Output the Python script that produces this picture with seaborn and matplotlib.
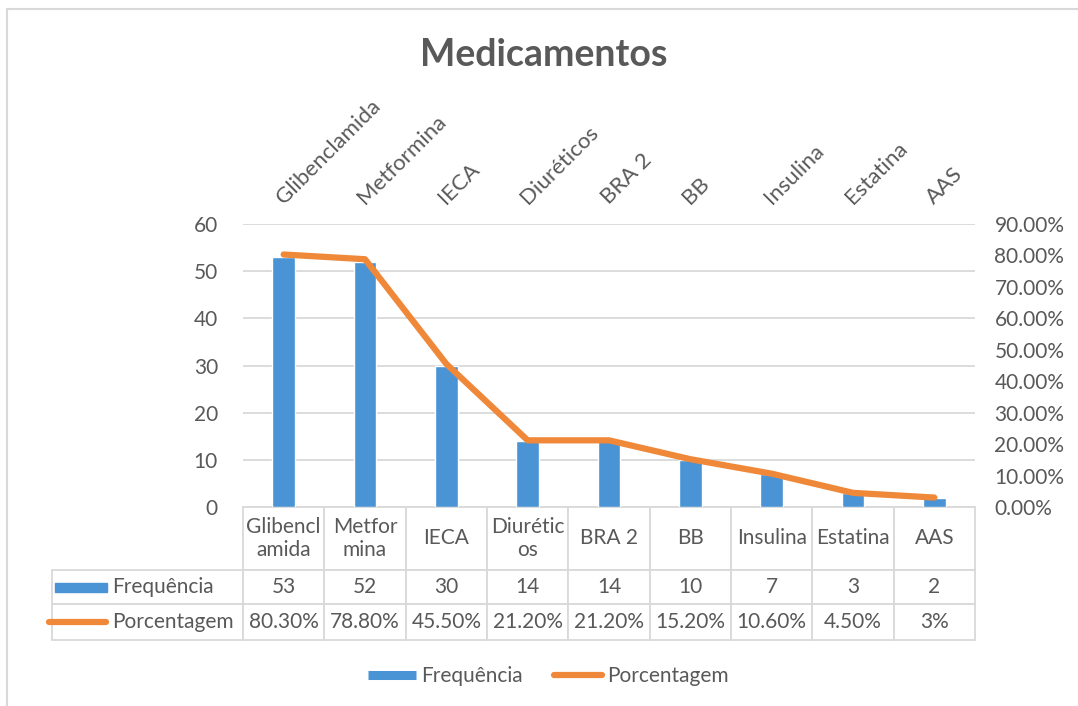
import numpy as np
import pandas as pd
import matplotlib
matplotlib.use("Agg")
import matplotlib.pyplot as plt
import seaborn as sns
from matplotlib.patches import Rectangle
from matplotlib.lines import Line2D
from matplotlib.ticker import FuncFormatter, FixedLocator

# ---------------- data ----------------
categories = ["Glibenclamida", "Metformina", "IECA", "Diuréticos", "BRA 2",
              "BB", "Insulina", "Estatina", "AAS"]
table_headers = ["Glibencl\namida", "Metfor\nmina", "IECA", "Diurétic\nos", "BRA 2",
                 "BB", "Insulina", "Estatina", "AAS"]
frequencia = [53, 52, 30, 14, 14, 10, 7, 3, 2]
porcentagem = [0.803, 0.788, 0.455, 0.212, 0.212, 0.152, 0.106, 0.045, 0.03]
porcentagem_labels = ["80.30%", "78.80%", "45.50%", "21.20%", "21.20%",
                      "15.20%", "10.60%", "4.50%", "3%"]
left_ticks = [0, 10, 20, 30, 40, 50, 60]
right_ticks = [0.0, 0.1, 0.2, 0.3, 0.4, 0.5, 0.6, 0.7, 0.8, 0.9]
series_names = ["Frequência", "Porcentagem"]
title = "Medicamentos"

# ---------------- style ----------------
sns.set_theme(style="white")
plt.rcParams["font.family"] = ["Lato", "DejaVu Sans"]

TXT = "#595959"
BLUE = "#4A93D4"
ORANGE = "#F0883A"
GRID = "#D9D9D9"
FS = 15

W, H = 1078, 706
fig = plt.figure(figsize=(W / 100, H / 100), dpi=100)
fig.patch.set_facecolor("white")

AX_L, AX_R, AX_T, AX_B = 243, 975, 224, 507
AW, AH = AX_R - AX_L, AX_B - AX_T
ax = fig.add_axes([AX_L / W, 1 - AX_B / H, AW / W, AH / H])

df = pd.DataFrame({"cat": categories, "freq": frequencia})
sns.barplot(data=df, x="cat", y="freq", color=BLUE, width=0.28, saturation=1,
            ax=ax, zorder=2)
ax.set_xlim(-0.5, len(categories) - 0.5)
ax.set_ylim(0, 60)
ax.yaxis.set_major_locator(FixedLocator(left_ticks))
ax.set_xlabel("")
ax.set_ylabel("")
ax.tick_params(axis="x", bottom=False, labelbottom=False)
ax.tick_params(axis="y", length=0, labelsize=FS, labelcolor=TXT, pad=18)
ax.yaxis.grid(True, color=GRID, lw=1.3)
ax.set_axisbelow(True)
for s in ax.spines.values():
    s.set_visible(False)

# line on secondary axis
ax2 = ax.twinx()
sns.lineplot(x=np.arange(len(categories)), y=porcentagem, ax=ax2, color=ORANGE,
             lw=4.5, solid_capstyle="round", solid_joinstyle="round")
ax2.set_ylim(0, 0.9)
ax2.yaxis.set_major_locator(FixedLocator(right_ticks))
ax2.yaxis.set_major_formatter(FuncFormatter(lambda v, p: f"{v * 100:.2f}%"))
ax2.tick_params(axis="y", length=0, labelsize=FS, labelcolor=TXT, pad=14)
ax2.set_ylabel("")
for s in ax2.spines.values():
    s.set_visible(False)

# rotated category labels on top
for i, c in enumerate(categories):
    ax.text(i, 1 + 19 / AH, c, transform=ax.get_xaxis_transform(), rotation=45,
            rotation_mode="anchor", ha="left", va="baseline", fontsize=16, color=TXT)

# data table (first column = series names column)
LBL_W = AX_L - 52
TOP_H, R1_H, R2_H = 63, 34, 36
tot_h = TOP_H + R1_H + R2_H
tbl = ax.table(cellText=[[""] + [str(v) for v in frequencia], [""] + porcentagem_labels],
               colLabels=[""] + table_headers, cellLoc="center",
               bbox=[-LBL_W / AW, -tot_h / AH, (AW + LBL_W) / AW, tot_h / AH])
tbl.auto_set_font_size(False)
tbl.set_fontsize(FS)
heights = {0: TOP_H, 1: R1_H, 2: R2_H}
for (r, c), cell in tbl.get_celld().items():
    cell.set_edgecolor(GRID)
    cell.set_linewidth(1.3)
    cell.get_text().set_color(TXT)
    cell.set_height(heights[r])
    cell.set_width(LBL_W if c == 0 else AW / len(categories))
tbl[0, 0].visible_edges = "open"

# row labels with legend keys
y_f = -(587 - AX_B) / AH
y_p = -(622 - AX_B) / AH
ax.text((112 - AX_L) / AW, y_f, series_names[0], transform=ax.transAxes,
        ha="left", va="center", fontsize=FS, color=TXT)
ax.text((112 - AX_L) / AW, y_p, series_names[1], transform=ax.transAxes,
        ha="left", va="center", fontsize=FS, color=TXT)
ax.add_patch(Rectangle(((55 - AX_L) / AW, -(592 - AX_B) / AH), 52 / AW, 9 / AH,
                       transform=ax.transAxes, color=BLUE, clip_on=False))
ax.add_line(Line2D([(49 - AX_L) / AW, (106 - AX_L) / AW], [y_p, y_p],
                   transform=ax.transAxes, color=ORANGE, lw=4.5,
                   solid_capstyle="round", clip_on=False))

# title
fig.text(544 / W, 1 - 55 / H, title, ha="center", va="center", fontsize=27,
         fontweight="bold", color=TXT)

# bottom legend
handles = [Line2D([], [], color=BLUE, lw=6.5, solid_capstyle="butt"),
           Line2D([], [], color=ORANGE, lw=4.5, solid_capstyle="round")]
fig.legend(handles, series_names, loc="center", bbox_to_anchor=(548 / W, 1 - 676 / H),
           ncol=2, frameon=False, fontsize=FS, handlelength=2.3, handletextpad=0.25,
           columnspacing=1.5, labelcolor=TXT)

# outer frame lines (top and left)
fig.add_artist(Line2D([7 / W, 7 / W], [0, 1 - 9 / H], color=GRID, lw=1.5,
                      transform=fig.transFigure))
fig.add_artist(Line2D([7 / W, 1], [1 - 9 / H, 1 - 9 / H], color=GRID, lw=1.5,
                      transform=fig.transFigure))

fig.savefig("out.png", dpi=100, facecolor="white")
